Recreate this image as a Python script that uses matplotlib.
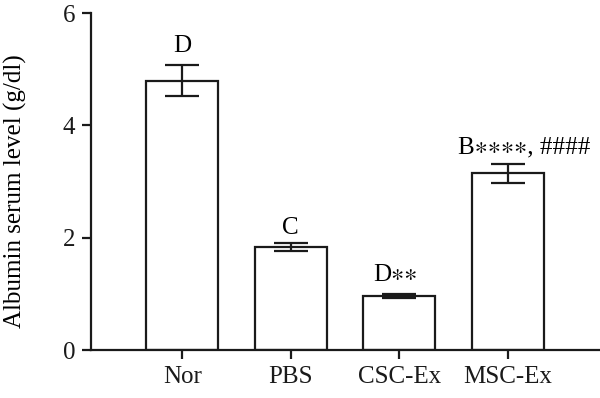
import numpy as np
import matplotlib
matplotlib.use('Agg')
import matplotlib.pyplot as plt

groups = ['Nor', 'PBS', 'CSC-Ex', 'MSC-Ex']
means = [4.80, 1.83, 0.96, 3.15]
errs = [0.28, 0.07, 0.04, 0.17]
labels = ['D', 'C', 'D\u2217\u2217', 'B\u2217\u2217\u2217\u2217, ####']
yticks = [0, 2, 4, 6]

plt.rcParams['font.family'] = ['Liberation Serif', 'DejaVu Serif']
plt.rcParams['font.size'] = 18

fig = plt.figure(figsize=(6, 3.98), dpi=100)
ax = fig.add_axes([0.1517, 0.1206, 0.8483, 0.8464])

x = np.arange(len(groups))
ax.bar(x, means, width=0.66, color='white', edgecolor='#1a1a1a', linewidth=1.6, zorder=2)
ax.errorbar(x, means, yerr=errs, fmt='none', ecolor='#1a1a1a', elinewidth=1.6,
            capsize=12, capthick=1.6, zorder=3)

# label offsets, MSC-Ex label sits a bit to the right
xoff = [0, 0, -3, 12]
yoff = [9, 7, 9, 7]
for i in range(len(groups)):
    ax.annotate(labels[i], (x[i], means[i] + errs[i]), xytext=(xoff[i], yoff[i]),
                textcoords='offset points', ha='center', va='baseline', fontsize=18,
                family=['Liberation Serif', 'STIXGeneral'])

ax.set_xlim(-0.84, 3.85)
ax.set_ylim(0, 6)
ax.set_yticks(yticks)
ax.set_xticks(x)
ax.set_xticklabels(groups)
ax.set_ylabel('Albumin serum level (g/dl)', fontsize=18)
ax.yaxis.set_label_coords(-0.125, 0.472)

for s in ['top', 'right']:
    ax.spines[s].set_visible(False)
for s in ['left', 'bottom']:
    ax.spines[s].set_linewidth(1.6)
    ax.spines[s].set_color('#1a1a1a')
ax.tick_params(axis='both', direction='out', length=6.5, width=1.6, colors='#1a1a1a',
               labelsize=18, pad=5)

fig.savefig('out.png', dpi=100)
